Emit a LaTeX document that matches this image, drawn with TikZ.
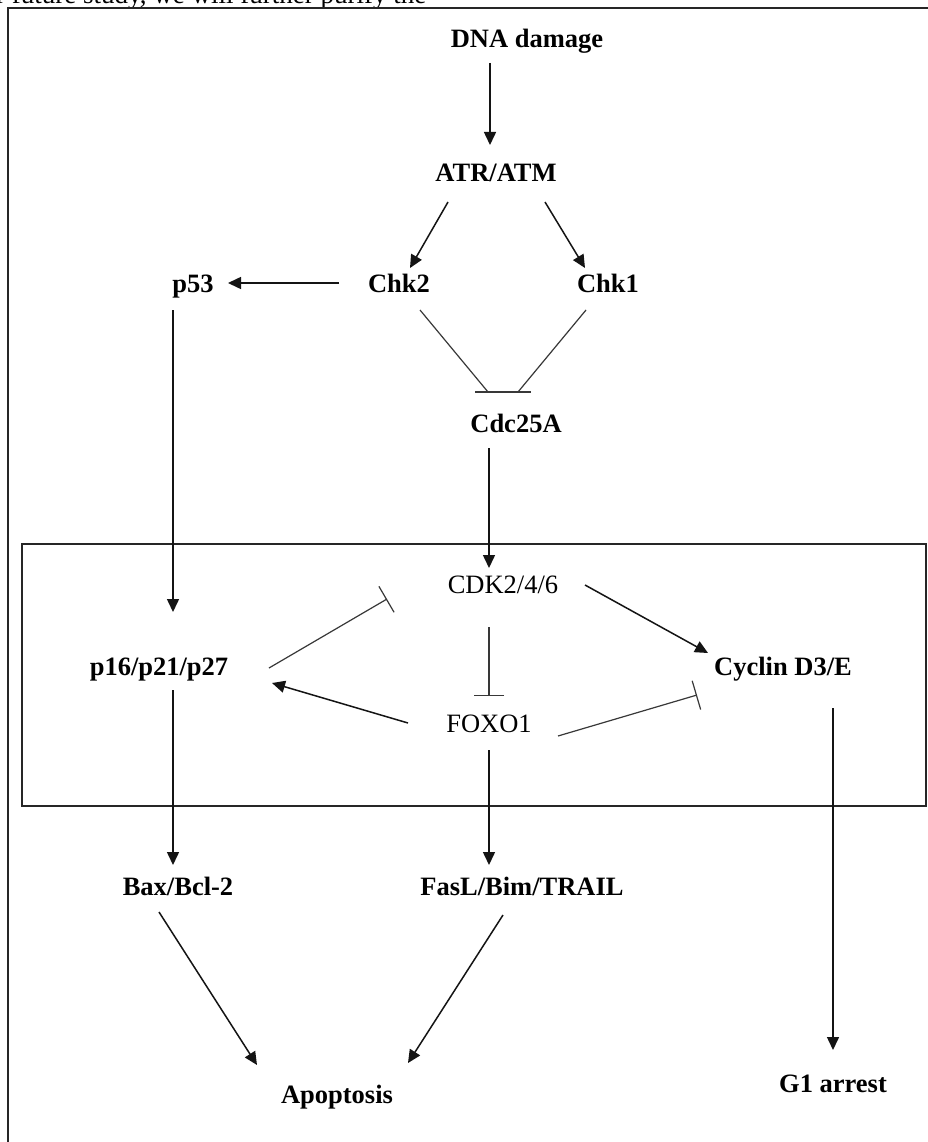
\documentclass[tikz,border=0pt]{standalone}
\usepackage{fontspec}
\setmainfont{Liberation Serif}
\usetikzlibrary{arrows.meta,calc}
\begin{document}
\begin{tikzpicture}[x=1pt,y=-1pt,
  lbl/.style={anchor=base,inner sep=0pt,font=\fontsize{26.5}{30}\selectfont\bfseries},
  lblr/.style={anchor=base,inner sep=0pt,font=\fontsize{26.5}{30}\selectfont},
  act/.style={draw=black!92,line width=1.5pt,-{Triangle[length=13pt,width=12pt]}},
  inh/.style={draw=black!78,line width=1.2pt},
  inhbar/.style={inh,-{Bar[width=30pt]}},
  framebox/.style={draw=black!85,line width=1.6pt}]
\useasboundingbox (0,0) rectangle (928,1142);
\fill[white] (0,0) rectangle (928,1142);
% cut-off line of running text
\node[anchor=base west,inner sep=0pt,font=\fontsize{27}{30}\selectfont] (toptext) at (-4,4) {r future study, we will further purify the};
% frames
\draw[framebox] (935,8) -- (8,8) -- (8,1150);
\draw[framebox,line width=1.4pt] (22,544) rectangle (926,806);
% nodes
\node[lbl]  (dna)  at (527,48)   {DNA damage};
\node[lbl]  (atr)  at (496,182)  {ATR/ATM};
\node[lbl]  (chk2) at (399,292)  {Chk2};
\node[lbl]  (chk1) at (608,292)  {Chk1};
\node[lbl]  (p53)  at (193,292)  {p53};
\node[lbl]  (cdc)  at (516,432)  {Cdc25A};
\node[lblr] (cdk)  at (503,593)  {CDK2/4/6};
\node[lbl]  (p16)  at (159,675)  {p16/p21/p27};
\node[lblr] (foxo) at (489,732)  {FOXO1};
\node[lbl]  (cyc)  at (783,675)  {Cyclin D3/E};
\node[lbl]  (bax)  at (178,895)  {Bax/Bcl-2};
\node[lbl]  (fasl) at (522,895)  {FasL/Bim/TRAIL};
\node[lbl]  (apo)  at (337,1103) {Apoptosis};
\node[lbl]  (g1)   at (833,1092) {G1 arrest};
% activating arrows
\draw[act] ($(dna.base)+(-37,15)$) -- ($(atr.base)+(-6,-37)$);
\draw[act] ($(atr.base)+(-48,20)$) -- ($(chk2.base)+(11,-24)$);
\draw[act] ($(atr.base)+(49,20)$) -- ($(chk1.base)+(-23,-24)$);
\draw[act] ($(chk2.base)+(-60,-9)$) -- ($(p53.base)+(35,-9)$);
\draw[act] ($(p53.base)+(-20,18)$) -- ($(p16.base)+(14,-63)$);
\draw[act] ($(cdc.base)+(-27,16)$) -- ($(cdk.base)+(-14,-25)$);
\draw[act] ($(cdk.base)+(82,-8)$) -- ($(cyc.base)+(-75,-22)$);
\draw[act] ($(foxo.base)+(-81,-9)$) -- ($(p16.base)+(113,8)$);
\draw[act] ($(cyc.base)+(50,33)$) -- ($(g1.base)+(0,-42)$);
\draw[act] ($(p16.base)+(14,15)$) -- ($(bax.base)+(-5,-30)$);
\draw[act] ($(foxo.base)+(0,18)$) -- ($(fasl.base)+(-33,-30)$);
\draw[act] ($(bax.base)+(-19,17)$) -- ($(apo.base)+(-80,-38)$);
\draw[act] ($(fasl.base)+(-19,20)$) -- ($(apo.base)+(71,-40)$);
% inhibitions
\draw[inh] ($(chk2.base)+(21,18)$) -- ($(cdc.base)+(-28,-40)$);
\draw[inh] ($(chk1.base)+(-22,18)$) -- ($(cdc.base)+(2,-40)$);
\draw[inh] ($(cdc.base)+(-41,-40)$) -- ($(cdc.base)+(15,-40)$);
\draw[inhbar] ($(cdk.base)+(-14,34)$) -- ($(foxo.base)+(0,-36)$);
\draw[inhbar] ($(p16.base)+(110,-7)$) -- ($(cdk.base)+(-116,6)$);
\draw[inhbar] ($(foxo.base)+(69,4)$) -- ($(cyc.base)+(-86,20)$);
\end{tikzpicture}
\end{document}
